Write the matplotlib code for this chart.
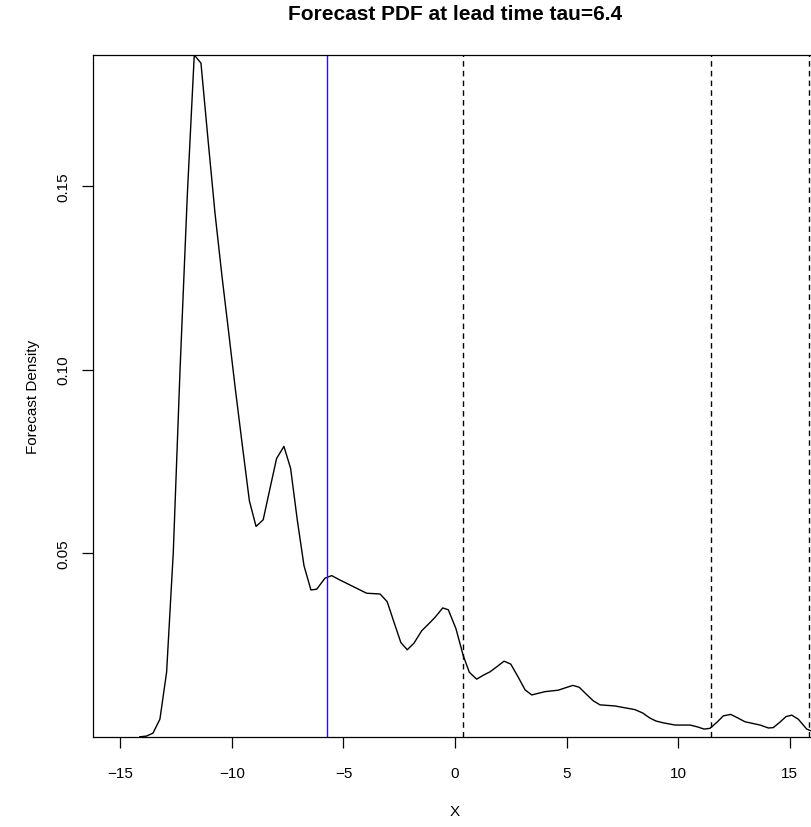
import matplotlib
matplotlib.use("Agg")
import matplotlib.pyplot as plt

plt.rcParams['font.family'] = ['Liberation Sans', 'DejaVu Sans']
plt.rcParams['lines.scale_dashes'] = False

# Forecast density curve
x_vals = [-14.13, -13.83, -13.54, -13.23, -12.93, -12.63, -12.33, -12.00, -11.69, -11.39,
          -11.08, -10.76, -10.45, -10.15, -9.85, -9.57, -9.22, -8.92, -8.60, -8.30,
          -8.00, -7.67, -7.37, -7.07, -6.77, -6.46, -6.20, -5.83, -5.53, -5.19,
          -4.89, -4.56, -4.26, -3.96, -3.36, -3.04, -2.74, -2.43, -2.14, -1.84,
          -1.49, -1.19, -0.90, -0.55, -0.30, 0.04, 0.37, 0.64, 0.97, 1.28,
          1.57, 1.88, 2.20, 2.50, 2.83, 3.14, 3.44, 4.04, 4.63, 5.28,
          5.57, 5.87, 6.20, 6.50, 7.17, 8.07, 8.41, 8.74, 9.01, 9.34,
          9.87, 10.54, 10.87, 11.17, 11.43, 11.75, 12.03, 12.36, 12.69, 13.00,
          13.68, 14.05, 14.27, 14.57, 14.84, 15.10, 15.39, 15.77, 16.01, 16.30]
density = [0.0000, 0.0002, 0.0010, 0.0048, 0.0176, 0.0503, 0.0996, 0.1478, 0.1857, 0.1835,
           0.1631, 0.1426, 0.1256, 0.1103, 0.0948, 0.0811, 0.0643, 0.0573, 0.0591, 0.0675,
           0.0758, 0.0791, 0.0731, 0.0590, 0.0466, 0.0400, 0.0402, 0.0432, 0.0439, 0.0428,
           0.0419, 0.0409, 0.0400, 0.0391, 0.0389, 0.0368, 0.0313, 0.0257, 0.0237, 0.0255,
           0.0289, 0.0307, 0.0325, 0.0351, 0.0346, 0.0295, 0.0221, 0.0176, 0.0157, 0.0168,
           0.0177, 0.0191, 0.0206, 0.0198, 0.0163, 0.0128, 0.0114, 0.0123, 0.0127, 0.0140,
           0.0135, 0.0117, 0.0098, 0.0087, 0.0084, 0.0074, 0.0065, 0.0051, 0.0043, 0.0038,
           0.0032, 0.0032, 0.0027, 0.0021, 0.0023, 0.0040, 0.0057, 0.0061, 0.0051, 0.0041,
           0.0032, 0.0024, 0.0025, 0.0040, 0.0055, 0.0059, 0.0048, 0.0021, 0.0015, 0.0005]

blue_line = -5.74
dashed_lines = [0.36, 11.48, 15.85]

x_ticks = [-15, -10, -5, 0, 5, 10, 15]
y_ticks = [0.05, 0.10, 0.15]
y_tick_labels = ["0.05", "0.10", "0.15"]

W, H = 812, 828
fig = plt.figure(figsize=(W / 100, H / 100), dpi=100)
left_px, right_px, top_px, bottom_px = 93, 817, 56, 737.8
ax = fig.add_axes([left_px / W, (H - bottom_px) / H, (right_px - left_px) / W, (bottom_px - top_px) / H])

ax.plot(x_vals, density, color='black', lw=1.0)
ax.axvline(blue_line, color='#2a10e8', lw=1.0)
for xv in dashed_lines:
    ax.axvline(xv, color='black', lw=1.0, ls=(0, (4, 3)))

ax.set_xlim(-16.23, 16.23)
ax.set_ylim(0, 0.1857)

for s in ['left', 'bottom', 'top']:
    ax.spines[s].set_linewidth(0.9)
    ax.spines[s].set_color('black')
ax.spines['right'].set_visible(False)

ax.set_xticks(x_ticks)
ax.set_xticklabels([str(t).replace('-', '\u2212') for t in x_ticks])
ax.set_yticks(y_ticks)
ax.set_yticklabels(y_tick_labels, rotation=90, va='center')
ax.tick_params(axis='both', direction='out', length=8, width=0.9, labelsize=11)
ax.tick_params(axis='x', pad=13)
ax.tick_params(axis='y', pad=8)

fig.text(455 / W, 1 - 14 / H, "Forecast PDF at lead time tau=6.4", ha='center', va='center',
         fontsize=15, fontweight='bold')
fig.text(455 / W, 1 - 812 / H, "X", ha='center', va='center', fontsize=11)
fig.text(33 / W, 1 - 397 / H, "Forecast Density", ha='center', va='center', rotation=90, fontsize=11)

fig.savefig("out.png", dpi=100)
